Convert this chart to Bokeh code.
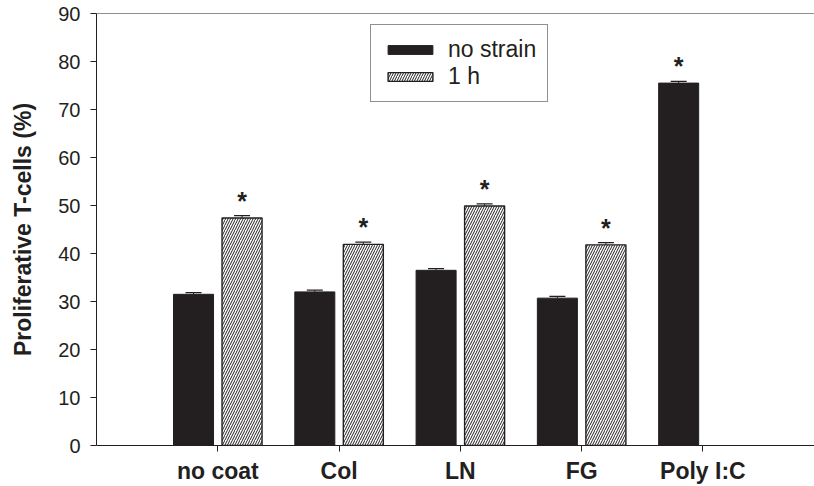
from bokeh.plotting import figure
from bokeh.models import (Range1d, FixedTicker, ColumnDataSource, Whisker, TeeHead,
                          Legend, LegendItem, Span)
from bokeh.core.properties import value
from bokeh.embed import file_html
from bokeh.resources import INLINE

# ---- data ----
categories = ["no coat", "Col", "LN", "FG", "Poly I:C"]
no_strain = [31.5, 32.0, 36.5, 30.7, 75.5]
no_strain_err = [0.35, 0.35, 0.35, 0.35, 0.35]
one_h_categories = ["no coat", "Col", "LN", "FG"]
one_h = [47.4, 41.9, 49.9, 41.8]
one_h_err = [0.5, 0.45, 0.45, 0.45]
y_ticks = [0, 10, 20, 30, 40, 50, 60, 70, 80, 90]

FONT = "Liberation Sans"
DARK = "#231f20"
OFFSET = 0.2
BAR_W = 0.33

pos = {c: i + 1 for i, c in enumerate(categories)}

src_a = ColumnDataSource(dict(
    x=[pos[c] - OFFSET for c in categories],
    top=no_strain,
    upper=[v + e for v, e in zip(no_strain, no_strain_err)],
))
src_b = ColumnDataSource(dict(
    x=[pos[c] + OFFSET for c in one_h_categories],
    top=one_h,
    upper=[v + e for v, e in zip(one_h, one_h_err)],
))
# significance stars: every 1 h bar plus Poly I:C
star_x = [pos[c] + OFFSET for c in one_h_categories] + [pos["Poly I:C"] - OFFSET]
star_y = [v + 3.6 for v in one_h] + [no_strain[-1] + 3.6]
src_star = ColumnDataSource(dict(x=star_x, y=star_y, t=["*"] * len(star_x)))

p = figure(width=814, height=486, output_backend="svg", toolbar_location=None,
           x_range=Range1d(0, 5.92), y_range=Range1d(0, 90),
           min_border_left=96, min_border_right=0, min_border_top=13, min_border_bottom=41)
p.outline_line_color = None
p.xgrid.visible = False
p.ygrid.visible = False
p.background_fill_color = "white"
p.border_fill_color = "white"

r_a = p.vbar(x="x", top="top", width=BAR_W, source=src_a,
             fill_color=DARK, line_color=DARK, line_width=1)
r_b = p.vbar(x="x", top="top", width=BAR_W, source=src_b,
             fill_color="white", line_color=DARK, line_width=1.4,
             hatch_pattern="/", hatch_color=DARK, hatch_scale=5, hatch_weight=1)

for src in (src_a, src_b):
    w = Whisker(base="x", lower="top", upper="upper", source=src,
                line_color=DARK, line_width=1,
                upper_head=TeeHead(size=16, line_color=DARK, line_width=1.2),
                lower_head=None)
    p.add_layout(w)

p.text(x="x", y="y", text="t", source=src_star, text_font=value(FONT),
       text_font_size="25px", text_font_style="bold", text_color=DARK,
       text_align="center", text_baseline="middle")

# top border line of the frame
p.add_layout(Span(location=90, dimension="width", line_color=DARK, line_width=1))

# axes
xa = p.xaxis[0]
xa.ticker = FixedTicker(ticks=[pos[c] for c in categories])
xa.major_label_overrides = {pos[c]: c for c in categories}
xa.major_label_text_font = FONT
xa.major_label_text_font_style = "bold"
xa.major_label_text_font_size = "23px"
xa.major_label_text_color = DARK
xa.major_label_standoff = 6
xa.major_tick_out = 6
xa.major_tick_in = 0
xa.minor_tick_line_color = None
xa.axis_line_color = DARK
xa.major_tick_line_color = DARK

ya = p.yaxis[0]
ya.ticker = FixedTicker(ticks=y_ticks)
ya.major_label_text_font = FONT
ya.major_label_text_font_size = "20px"
ya.major_label_text_color = DARK
ya.major_label_standoff = 10
ya.major_tick_out = 6
ya.major_tick_in = 0
ya.minor_tick_line_color = None
ya.axis_line_color = DARK
ya.major_tick_line_color = DARK
ya.axis_label = "Proliferative T-cells (%)"
ya.axis_label_text_font = FONT
ya.axis_label_text_font_style = "bold"
ya.axis_label_text_font_size = "23px"
ya.axis_label_text_color = DARK
ya.axis_label_standoff = 19

legend = Legend(items=[
    LegendItem(label="no strain", renderers=[r_a]),
    LegendItem(label="1 h", renderers=[r_b]),
], location=(274, 343))
legend.glyph_width = 56
legend.glyph_height = 11
legend.label_height = 11
legend.spacing = 0
legend.padding = 11
legend.margin = 0
legend.label_standoff = 10
legend.label_text_font = FONT
legend.label_text_font_size = "23px"
legend.label_text_color = DARK
legend.border_line_color = DARK
legend.border_line_width = 1
legend.background_fill_color = "white"
legend.background_fill_alpha = 1
p.add_layout(legend, "center")

open("out.html", "w").write(file_html(p, INLINE))
